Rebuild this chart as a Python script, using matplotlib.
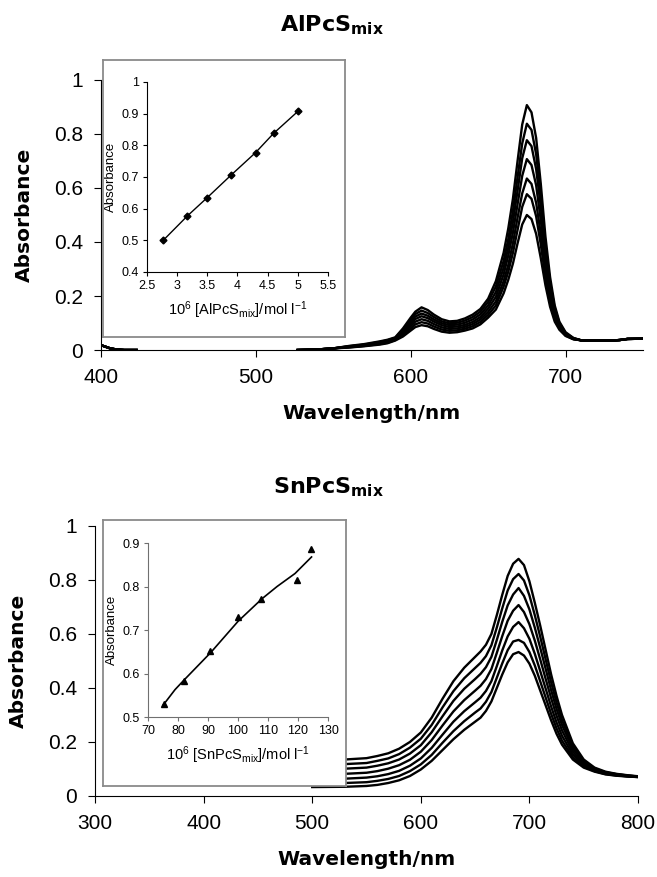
import numpy as np
import matplotlib
matplotlib.use("Agg")
import matplotlib.pyplot as plt

plt.rcParams['mathtext.fontset'] = 'custom'
plt.rcParams['mathtext.rm'] = 'Liberation Sans'
plt.rcParams['mathtext.it'] = 'Liberation Sans:italic'
plt.rcParams['mathtext.bf'] = 'DejaVu Sans:bold'

nan = np.nan

# ---- AlPcSmix spectra (7 concentrations, low -> high) ----
wl_al = [400, 403, 406, 410, 415, 423, 470, 527, 540, 550, 560, 570, 580, 585, 590,
         595, 600, 603, 607, 611, 615, 620, 625, 630, 635, 640, 645, 650, 655, 660,
         663, 666, 669, 672, 675, 678, 681, 684, 687, 690, 693, 696, 700, 705, 710,
         720, 730, 735, 740, 750]

al_1 = [0.018, 0.012, 0.006, 0.002, 0.0, 0.0, nan, 0.0, 0.002, 0.006, 0.009, 0.014, 0.020, 0.025, 0.035,
        0.050, 0.072, 0.085, 0.092, 0.088, 0.078, 0.068, 0.064, 0.066, 0.072, 0.080, 0.095, 0.120, 0.150, 0.210,
        0.260, 0.320, 0.395, 0.465, 0.500, 0.485, 0.430, 0.340, 0.240, 0.160, 0.105, 0.075, 0.052, 0.040, 0.036,
        0.035, 0.035, 0.037, 0.041, 0.042]
al_2 = [0.018, 0.012, 0.006, 0.002, 0.0, 0.0, nan, 0.0, 0.002, 0.006, 0.010, 0.015, 0.022, 0.027, 0.037,
        0.055, 0.080, 0.095, 0.103, 0.098, 0.087, 0.076, 0.071, 0.073, 0.079, 0.088, 0.104, 0.130, 0.165, 0.235,
        0.290, 0.360, 0.445, 0.530, 0.577, 0.560, 0.495, 0.390, 0.270, 0.180, 0.115, 0.080, 0.054, 0.040, 0.036,
        0.035, 0.035, 0.037, 0.041, 0.042]
al_3 = [0.018, 0.012, 0.006, 0.002, 0.0, 0.0, nan, 0.0, 0.002, 0.006, 0.011, 0.016, 0.024, 0.029, 0.039,
        0.060, 0.088, 0.105, 0.114, 0.108, 0.096, 0.084, 0.078, 0.080, 0.086, 0.096, 0.113, 0.141, 0.180, 0.255,
        0.315, 0.395, 0.490, 0.580, 0.635, 0.615, 0.545, 0.430, 0.300, 0.195, 0.125, 0.085, 0.056, 0.041, 0.036,
        0.035, 0.035, 0.037, 0.041, 0.042]
al_4 = [0.018, 0.012, 0.006, 0.002, 0.0, 0.0, nan, 0.0, 0.002, 0.006, 0.012, 0.018, 0.026, 0.031, 0.041,
        0.065, 0.096, 0.115, 0.125, 0.118, 0.105, 0.092, 0.085, 0.087, 0.093, 0.104, 0.122, 0.153, 0.197, 0.280,
        0.350, 0.435, 0.540, 0.645, 0.707, 0.685, 0.610, 0.480, 0.330, 0.210, 0.135, 0.090, 0.058, 0.042, 0.036,
        0.035, 0.035, 0.037, 0.041, 0.042]
al_5 = [0.018, 0.012, 0.006, 0.002, 0.0, 0.0, nan, 0.0, 0.002, 0.006, 0.013, 0.019, 0.028, 0.034, 0.043,
        0.070, 0.104, 0.124, 0.135, 0.127, 0.113, 0.099, 0.092, 0.094, 0.101, 0.113, 0.132, 0.165, 0.215, 0.305,
        0.380, 0.475, 0.590, 0.710, 0.777, 0.755, 0.670, 0.530, 0.360, 0.230, 0.145, 0.095, 0.061, 0.043, 0.036,
        0.035, 0.035, 0.037, 0.041, 0.042]
al_6 = [0.018, 0.012, 0.006, 0.002, 0.0, 0.0, nan, 0.0, 0.002, 0.006, 0.014, 0.020, 0.030, 0.036, 0.045,
        0.075, 0.112, 0.133, 0.146, 0.137, 0.122, 0.106, 0.099, 0.101, 0.109, 0.122, 0.142, 0.178, 0.235, 0.330,
        0.410, 0.515, 0.640, 0.765, 0.838, 0.815, 0.725, 0.570, 0.390, 0.250, 0.155, 0.100, 0.063, 0.044, 0.036,
        0.035, 0.035, 0.037, 0.041, 0.042]
al_7 = [0.018, 0.012, 0.006, 0.002, 0.0, 0.0, nan, 0.0, 0.002, 0.006, 0.015, 0.022, 0.032, 0.038, 0.047,
        0.080, 0.120, 0.142, 0.158, 0.148, 0.131, 0.114, 0.106, 0.108, 0.117, 0.131, 0.152, 0.190, 0.255, 0.360,
        0.450, 0.560, 0.700, 0.835, 0.907, 0.880, 0.785, 0.615, 0.420, 0.270, 0.165, 0.105, 0.066, 0.045, 0.036,
        0.035, 0.035, 0.037, 0.041, 0.042]

# inset: Q-band absorbance vs concentration
al_conc = [2.77, 3.17, 3.5, 3.9, 4.3, 4.6, 5.0]
al_abs = [0.500, 0.577, 0.635, 0.707, 0.777, 0.838, 0.907]

# ---- SnPcSmix spectra ----
wl_sn = [500, 530, 550, 560, 570, 580, 590, 600, 610, 620, 630, 640, 650, 655, 660, 665,
         670, 675, 680, 685, 690, 695, 700, 705, 710, 715, 720, 725, 730, 740, 750, 760,
         770, 780, 790, 800]

sn_1 = [0.033, 0.034, 0.037, 0.041, 0.048, 0.058, 0.074, 0.098, 0.130, 0.170, 0.210, 0.245, 0.275, 0.290, 0.315, 0.350,
        0.400, 0.450, 0.495, 0.525, 0.533, 0.520, 0.490, 0.445, 0.390, 0.335, 0.280, 0.230, 0.190, 0.135, 0.105, 0.090,
        0.080, 0.075, 0.072, 0.070]
sn_2 = [0.047, 0.048, 0.051, 0.056, 0.063, 0.074, 0.092, 0.117, 0.152, 0.197, 0.240, 0.277, 0.309, 0.324, 0.349, 0.385,
        0.438, 0.491, 0.540, 0.572, 0.578, 0.567, 0.533, 0.483, 0.424, 0.364, 0.304, 0.250, 0.205, 0.143, 0.109, 0.092,
        0.081, 0.076, 0.073, 0.070]
sn_3 = [0.063, 0.064, 0.068, 0.073, 0.081, 0.093, 0.112, 0.139, 0.178, 0.227, 0.275, 0.314, 0.347, 0.364, 0.389, 0.425,
        0.481, 0.539, 0.591, 0.626, 0.644, 0.621, 0.582, 0.526, 0.462, 0.397, 0.331, 0.272, 0.223, 0.153, 0.114, 0.095,
        0.083, 0.077, 0.073, 0.071]
sn_4 = [0.081, 0.082, 0.086, 0.092, 0.101, 0.114, 0.134, 0.164, 0.207, 0.261, 0.313, 0.355, 0.390, 0.408, 0.433, 0.470,
        0.530, 0.592, 0.649, 0.686, 0.707, 0.681, 0.636, 0.575, 0.505, 0.433, 0.362, 0.297, 0.243, 0.164, 0.119, 0.097,
        0.085, 0.078, 0.074, 0.071]
sn_5 = [0.099, 0.101, 0.105, 0.112, 0.121, 0.135, 0.157, 0.188, 0.236, 0.295, 0.352, 0.397, 0.433, 0.452, 0.477, 0.515,
        0.578, 0.645, 0.706, 0.746, 0.770, 0.741, 0.691, 0.623, 0.548, 0.470, 0.392, 0.322, 0.263, 0.175, 0.125, 0.100,
        0.087, 0.080, 0.075, 0.072]
sn_6 = [0.116, 0.118, 0.122, 0.130, 0.139, 0.155, 0.179, 0.212, 0.263, 0.328, 0.388, 0.436, 0.474, 0.493, 0.518, 0.558,
        0.624, 0.695, 0.761, 0.803, 0.822, 0.798, 0.743, 0.669, 0.589, 0.505, 0.421, 0.346, 0.281, 0.185, 0.130, 0.102,
        0.088, 0.081, 0.076, 0.072]
sn_7 = [0.133, 0.135, 0.140, 0.148, 0.158, 0.175, 0.200, 0.235, 0.290, 0.360, 0.425, 0.475, 0.515, 0.535, 0.560, 0.600,
        0.670, 0.745, 0.815, 0.860, 0.878, 0.855, 0.795, 0.715, 0.630, 0.540, 0.450, 0.370, 0.300, 0.195, 0.135, 0.105,
        0.090, 0.082, 0.077, 0.073]

sn_conc = [75.2, 81.9, 90.8, 99.9, 107.7, 119.7, 124.3]
sn_abs = [0.531, 0.583, 0.651, 0.729, 0.772, 0.816, 0.886]
sn_fit_x = [75, 79, 82, 91, 100, 108, 113, 119, 124.5]
sn_fit_y = [0.527, 0.563, 0.585, 0.649, 0.720, 0.772, 0.800, 0.830, 0.868]

TICKFONT = ['Liberation Sans Narrow', 'Liberation Sans']


def main_axes(fig, rect, xlim, xticks):
    ax = fig.add_axes(rect)
    ax.set_xlim(*xlim)
    ax.set_ylim(0, 1)
    ax.set_xticks(xticks)
    ax.set_yticks([0, 0.2, 0.4, 0.6, 0.8, 1])
    ax.set_yticklabels(['0', '0.2', '0.4', '0.6', '0.8', '1'])
    for s in ['top', 'right']:
        ax.spines[s].set_visible(False)
    ax.tick_params(direction='out', length=5, width=0.8, labelsize=15, pad=8)
    for lab in ax.get_xticklabels() + ax.get_yticklabels():
        lab.set_family(TICKFONT)
    ax.set_xlabel('Wavelength/nm', fontsize=14.5, fontweight='bold', labelpad=12)
    ax.set_ylabel('Absorbance', fontsize=14.5, fontweight='bold', labelpad=14)
    return ax


def inset(fig, box_rect, rect, xlim, xticks, ylim, yticks, xlabel, spine_color):
    box = fig.add_axes(box_rect)
    box.set_xticks([])
    box.set_yticks([])
    for s in box.spines.values():
        s.set_color('#8a8a8a')
        s.set_linewidth(1.3)
    ax = fig.add_axes(rect)
    ax.patch.set_alpha(0)
    ax.set_xlim(*xlim)
    ax.set_ylim(*ylim)
    ax.set_xticks(xticks)
    ax.set_yticks(yticks)
    for s in ['top', 'right']:
        ax.spines[s].set_visible(False)
    for s in ['left', 'bottom']:
        ax.spines[s].set_color(spine_color)
    ax.tick_params(direction='out', length=3, width=0.8, labelsize=9, pad=3,
                   color=spine_color)
    for lab in ax.get_xticklabels() + ax.get_yticklabels():
        lab.set_family('Liberation Sans')
    ax.set_xlabel(xlabel, fontsize=10.5, family='Liberation Sans', labelpad=5)
    ax.set_ylabel('Absorbance', fontsize=9.5, family='Liberation Sans', labelpad=3)
    return ax


fig = plt.figure(figsize=(6.57, 8.77), dpi=100)

# top panel
ax1 = main_axes(fig, [0.1537, 0.6009, 0.825, 0.3079], (400, 750), [400, 500, 600, 700])
for ys in [al_1, al_2, al_3, al_4, al_5, al_6, al_7]:
    ax1.plot(wl_al, ys, color='black', lw=1.7)
fig.text(0.505, 0.971, r'$\mathbf{AlPcS_{mix}}$', ha='center', va='center', fontsize=16)

in1 = inset(fig, [0.1568, 0.6157, 0.3683, 0.3158], [0.2237, 0.6899, 0.2755, 0.2166],
            (2.5, 5.5), [2.5, 3, 3.5, 4, 4.5, 5, 5.5], (0.4, 1.0),
            [0.4, 0.5, 0.6, 0.7, 0.8, 0.9, 1.0],
            r'10$^{6}$ [AlPcS$_{\rm mix}$]/mol l$^{-1}$', 'black')
in1.set_yticklabels(['0.4', '0.5', '0.6', '0.7', '0.8', '0.9', '1'])
in1.set_xticklabels(['2.5', '3', '3.5', '4', '4.5', '5', '5.5'])
in1.plot(al_conc, al_abs, color='black', lw=1, marker='D', markersize=3.5)

# bottom panel
ax2 = main_axes(fig, [0.1446, 0.0924, 0.8265, 0.3079], (300, 800), [300, 400, 500, 600, 700, 800])
for ys in [sn_1, sn_2, sn_3, sn_4, sn_5, sn_6, sn_7]:
    ax2.plot(wl_sn, ys, color='black', lw=1.7)
fig.text(0.5, 0.445, r'$\mathbf{SnPcS_{mix}}$', ha='center', va='center', fontsize=16)

in2 = inset(fig, [0.1568, 0.1038, 0.3699, 0.3033], [0.2253, 0.1824, 0.274, 0.1984],
            (70, 130), [70, 80, 90, 100, 110, 120, 130], (0.5, 0.9),
            [0.5, 0.6, 0.7, 0.8, 0.9],
            r'10$^{6}$ [SnPcS$_{\rm mix}$]/mol l$^{-1}$', '#707070')
in2.plot(sn_fit_x, sn_fit_y, color='black', lw=1.2)
in2.plot(sn_conc, sn_abs, linestyle='none', color='black', marker='^', markersize=5)

fig.savefig('out.png', dpi=100)
